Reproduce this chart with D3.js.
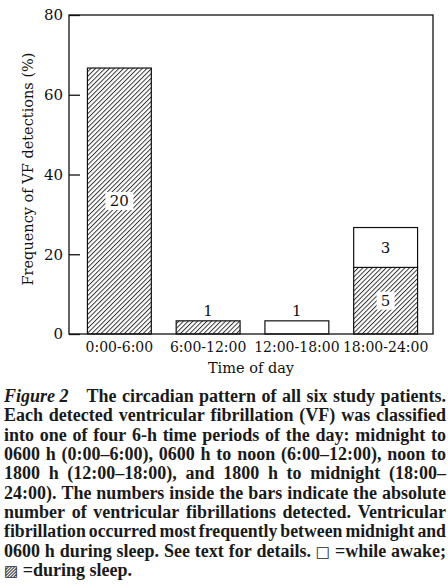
<!DOCTYPE html>
<meta charset="utf-8">
<style>
body { margin: 0; background: #fff; }
svg { display: block; }
.chart text { font-family: "DejaVu Serif", serif; font-size: 14px; fill: #111; }
.caption text { font-family: "Liberation Serif", "Times New Roman", serif; font-size: 18px; font-weight: bold; fill: #1a1a1a; }
.caption .sym { font-family: "DejaVu Sans", sans-serif; font-weight: normal; font-size: 15px; }
</style>
<svg width="448" height="584"></svg>
<script src="https://d3js.org/d3.v7.min.js"></script>
<script>

// data: share of all 30 detected VF episodes (%), split by sleep state
var categories = ["0:00-6:00", "6:00-12:00", "12:00-18:00", "18:00-24:00"];
var sleepPct = [66.7, 3.3, 0, 16.7];
var awakePct = [0, 0, 3.3, 10.0];
var sleepCount = [20, 1, 0, 5];
var awakeCount = [0, 0, 1, 3];
var yTicks = [0, 20, 40, 60, 80];

var captionLines = [
  "The circadian pattern of all six study patients.",
  "Each detected ventricular fibrillation (VF) was classified",
  "into one of four 6-h time periods of the day: midnight to",
  "0600 h (0:00\u20136:00), 0600 h to noon (6:00\u201312:00), noon to",
  "1800 h (12:00\u201318:00), and 1800 h to midnight (18:00\u2013",
  "24:00). The numbers inside the bars indicate the absolute",
  "number of ventricular fibrillations detected. Ventricular",
  "fibrillation occurred most frequently between midnight and",
  "0600 h during sleep. See text for details. \u25A1 =while awake;",
  "\u25A8 =during sleep."
];

var svg = d3.select("svg");
var plotL = 69, plotR = 433, plotT = 15, plotB = 334;

// hatch pattern
svg.append("defs").append("pattern")
    .attr("id", "hatch")
    .attr("patternUnits", "userSpaceOnUse")
    .attr("width", 3.3).attr("height", 3.3)
    .attr("patternTransform", "rotate(45)")
  .call(function(p) {
    p.append("rect").attr("width", 3.3).attr("height", 3.3).attr("fill", "#fff");
    p.append("line").attr("x1", 0.5).attr("x2", 0.5).attr("y1", 0).attr("y2", 3.3)
      .attr("stroke", "#222").attr("stroke-width", 0.9);
  });

var chart = svg.append("g").attr("class", "chart");

var x = d3.scaleBand().domain(categories).range([75, 430]).paddingInner(0.28).paddingOuter(0.14);
var y = d3.scaleLinear().domain([0, 80]).range([plotB, plotT]);

var rows = categories.map(function(c, i) {
  return { cat: c, sleep: sleepPct[i], awake: awakePct[i], ns: sleepCount[i], na: awakeCount[i] };
});

// bars: sleep (hatched) at bottom, awake (white) stacked above
chart.selectAll(".sleep").data(rows.filter(function(d) { return d.sleep > 0; }))
  .enter().append("rect")
    .attr("class", "sleep")
    .attr("x", function(d) { return x(d.cat); })
    .attr("width", x.bandwidth())
    .attr("y", function(d) { return y(d.sleep); })
    .attr("height", function(d) { return y(0) - y(d.sleep); })
    .attr("fill", "url(#hatch)")
    .attr("stroke", "#111").attr("stroke-width", 1.2);

chart.selectAll(".awake").data(rows.filter(function(d) { return d.awake > 0; }))
  .enter().append("rect")
    .attr("class", "awake")
    .attr("x", function(d) { return x(d.cat); })
    .attr("width", x.bandwidth())
    .attr("y", function(d) { return y(d.sleep + d.awake); })
    .attr("height", function(d) { return y(d.sleep) - y(d.sleep + d.awake); })
    .attr("fill", "#fff")
    .attr("stroke", "#111").attr("stroke-width", 1.2);

// count labels
var labels = [];
rows.forEach(function(d) {
  var cx = x(d.cat) + x.bandwidth() / 2;
  var segs = [[0, d.sleep, d.ns, true], [d.sleep, d.sleep + d.awake, d.na, false]];
  segs.forEach(function(s) {
    if (!s[2]) return;
    var h = y(s[0]) - y(s[1]);
    if (h < 20) labels.push({ x: cx, y: y(s[1]) - 10, t: s[2], box: false });
    else labels.push({ x: cx, y: (y(s[0]) + y(s[1])) / 2, t: s[2], box: s[3] });
  });
});

var lab = chart.selectAll(".lab").data(labels).enter().append("g")
    .attr("transform", function(d) { return "translate(" + d.x + "," + d.y + ")"; });
lab.filter(function(d) { return d.box; }).append("rect")
    .attr("x", function(d) { return -(String(d.t).length * 5 + 4); })
    .attr("width", function(d) { return String(d.t).length * 10 + 8; })
    .attr("y", -9).attr("height", 18)
    .attr("fill", "#fff");
lab.append("text")
    .attr("text-anchor", "middle")
    .attr("dy", "0.36em")
    .style("font-size", "15px")
    .text(function(d) { return d.t; });

// frame
chart.append("rect")
    .attr("x", plotL).attr("y", plotT)
    .attr("width", plotR - plotL).attr("height", plotB - plotT)
    .attr("fill", "none").attr("stroke", "#111").attr("stroke-width", 1.3);

// y axis, inward ticks
var yAxis = chart.append("g")
    .attr("transform", "translate(" + plotL + ",0)")
    .call(d3.axisLeft(y).tickValues(yTicks).tickSizeInner(-11).tickSizeOuter(0).tickPadding(6));
yAxis.select(".domain").remove();
yAxis.selectAll("line").attr("stroke", "#111").attr("stroke-width", 1.3);
yAxis.selectAll("text").attr("font-family", null).attr("font-size", null).style("font-size", "15px");

// x axis labels only
var xAxis = chart.append("g")
    .attr("transform", "translate(0," + plotB + ")")
    .call(d3.axisBottom(x).tickSize(0).tickPadding(8));
xAxis.select(".domain").remove();
xAxis.selectAll("text").attr("font-family", null).attr("font-size", null);

chart.append("text")
    .attr("x", (plotL + plotR) / 2).attr("y", 373)
    .attr("text-anchor", "middle")
    .style("font-size", "14.5px")
    .text("Time of day");

chart.append("text")
    .attr("transform", "translate(33,169) rotate(-90)")
    .attr("text-anchor", "middle")
    .style("font-size", "14.5px")
    .text("Frequency of VF detections (%)");

// caption, justified line by line
var cap = svg.append("g").attr("class", "caption");
var capLeft = 4, capRight = 446, base0 = 402, lead = 19.35;
var symbols = ["\u25A1", "\u25A8"];

captionLines.forEach(function(line, i) {
  var yy = base0 + i * lead;
  var words = line.split(" ");
  var startX = capLeft;
  var avail = capRight - capLeft;
  if (i === 0) {
    var fig = cap.append("text").attr("x", capLeft).attr("y", yy)
        .attr("font-style", "italic").attr("font-weight", "normal").text("Figure 2");
    startX = capLeft + fig.node().getComputedTextLength() + 18;
    avail = capRight - startX;
  }
  var nodes = words.map(function(w) {
    var t = cap.append("text").attr("y", yy).text(w);
    if (symbols.indexOf(w) >= 0) t.attr("class", "sym");
    return t;
  });
  var widths = nodes.map(function(n) { return n.node().getComputedTextLength(); });
  var total = d3.sum(widths);
  var last = i === captionLines.length - 1;
  var gap = last ? 4.5 : (avail - total) / Math.max(words.length - 1, 1);
  var scale = 1;
  if (gap < 3 && !last) { scale = (avail - 3 * (words.length - 1)) / total; gap = 3; }
  var cx = startX;
  nodes.forEach(function(n, k) {
    if (scale < 1) {
      n.attr("textLength", widths[k] * scale).attr("lengthAdjust", "spacingAndGlyphs");
    }
    n.attr("x", cx);
    cx += widths[k] * scale + gap;
  });
});

</script>
